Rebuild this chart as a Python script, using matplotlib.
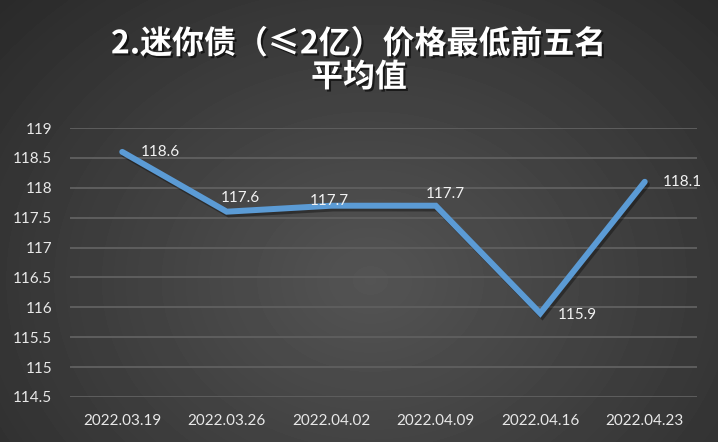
import numpy as np
import matplotlib.pyplot as plt
import matplotlib.patheffects as pe

# 数据
dates = ["2022.03.19", "2022.03.26", "2022.04.02", "2022.04.09", "2022.04.16", "2022.04.23"]
values = [118.6, 117.6, 117.7, 117.7, 115.9, 118.1]
yticks = [114.5, 115, 115.5, 116, 116.5, 117, 117.5, 118, 118.5, 119]

title = "2.迷你债（≤2亿）价格最低前五名\n平均值"

fig = plt.figure(figsize=(7.18, 4.42), dpi=100)

# 背景径向渐变
bg = fig.add_axes([0, 0, 1, 1])
yy, xx = np.mgrid[0:442, 0:718]
r = np.sqrt(((xx - 370) / 520.0) ** 2 + ((yy - 280) / 420.0) ** 2)
shade = np.clip(0.33 - 0.17 * r, 0.15, 0.33)
bg.imshow(shade, cmap="gray", vmin=0, vmax=1, aspect="auto", extent=[0, 1, 0, 1])
bg.axis("off")

ax = fig.add_axes([70 / 718, 1 - 397 / 442, 627 / 718, 269 / 442])
ax.patch.set_alpha(0)
for s in ax.spines.values():
    s.set_visible(False)

x = np.arange(len(dates))
ax.plot(x, values, color="#5b9bd5", lw=4.3, solid_capstyle="round", solid_joinstyle="miter",
        path_effects=[pe.SimpleLineShadow(offset=(1.5, -2), shadow_color="black", alpha=0.35),
                      pe.Normal()], zorder=3)

# 数据标签（偏移量单位为像素，左边缘相对数据点）
offsets = [(19, 0), (-6, 14), (-21, 5), (-10, 12), (18, -2), (18, 0)]
for i, v in enumerate(values):
    ax.annotate(f"{v:.1f}", (x[i], v), xytext=offsets[i], textcoords="offset pixels",
                ha="left", va="center", color="#f2f2f2", fontsize=11, family="Lato", zorder=4)

ax.set_xlim(-0.5, len(dates) - 0.5)
ax.set_ylim(114.5, 119)
ax.set_yticks(yticks)
ax.set_yticklabels([f"{t:g}" for t in yticks])
ax.set_xticks(x)
ax.set_xticklabels(dates)
ax.grid(axis="y", color="#5e5e5e", lw=1.4)
ax.set_axisbelow(True)
ax.tick_params(length=0, colors="#e8e8e8", labelsize=11)
for lab in ax.get_xticklabels() + ax.get_yticklabels():
    lab.set_family("Lato")
ax.tick_params(axis="x", pad=12)
ax.tick_params(axis="y", pad=13)

fig.text(0.5, 1 - 61 / 442, title, ha="center", va="center", color="white", fontsize=23,
         fontweight="bold", family=["Noto Sans CJK SC", "DejaVu Sans"], linespacing=1.05,
         path_effects=[pe.withSimplePatchShadow(offset=(1.5, -1.5), shadow_rgbFace="black", alpha=0.6)])

fig.savefig("out.png", dpi=100)
